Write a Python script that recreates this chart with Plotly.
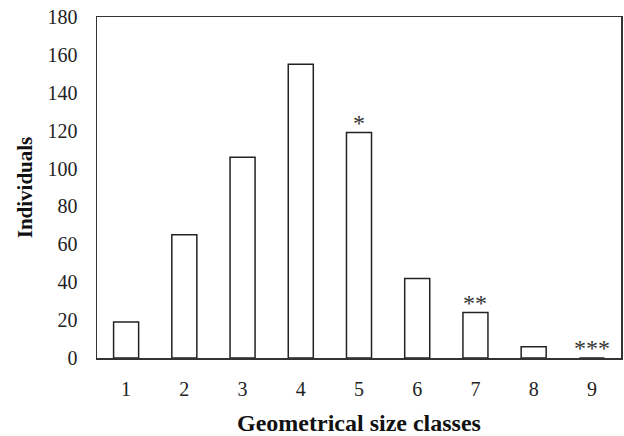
import plotly.graph_objects as go

categories = [1, 2, 3, 4, 5, 6, 7, 8, 9]
individuals = [19, 65, 106, 155, 119, 42, 24, 6, 0]
significance = ["", "", "", "", "*", "", "**", "", "***"]
y_ticks = [0, 20, 40, 60, 80, 100, 120, 140, 160, 180]

serif = "Liberation Serif, Times New Roman, serif"

fig = go.Figure(
    go.Bar(
        x=categories,
        y=individuals,
        width=0.43,
        marker=dict(color="white", line=dict(color="#222222", width=1.5)),
    )
)

for c, v, s in zip(categories, individuals, significance):
    if s:
        fig.add_annotation(
            x=c, y=v, text=s, showarrow=False, yanchor="bottom",
            yshift=-5, font=dict(family=serif, size=24, color="#333333"),
        )

fig.update_layout(
    width=624,
    height=436,
    margin=dict(l=97, r=3, t=17, b=78, autoexpand=False),
    paper_bgcolor="white",
    plot_bgcolor="white",
    showlegend=False,
    hovermode=False,
    font=dict(family=serif, color="#222222"),
)

fig.update_xaxes(
    range=[0.5, 9.5],
    tickmode="array",
    tickvals=categories,
    ticktext=[str(c) for c in categories],
    tickfont=dict(size=20, family=serif, color="#222222"),
    ticklabelstandoff=12,
    showline=True,
    linecolor="#333333",
    linewidth=1.5,
    mirror=True,
    ticks="",
    showgrid=False,
    zeroline=False,
    automargin=False,
    title=dict(text="<b>Geometrical size classes</b>", font=dict(size=24, family=serif, color="#111111"), standoff=19),
)

fig.update_yaxes(
    range=[0, 180],
    tickmode="array",
    tickvals=y_ticks,
    tickfont=dict(size=20, family=serif, color="#222222"),
    ticklabelstandoff=14,
    showline=True,
    linecolor="#333333",
    linewidth=1.5,
    mirror=True,
    ticks="",
    showgrid=False,
    zeroline=False,
    automargin=False,
    title=dict(text="<b>Individuals</b>", font=dict(size=21, family=serif, color="#111111"), standoff=9),
)

fig.write_html(
    "out.html",
    config={"displayModeBar": False, "staticPlot": True},
    post_script="document.body.style.margin='0';document.body.style.overflow='hidden';",
)
